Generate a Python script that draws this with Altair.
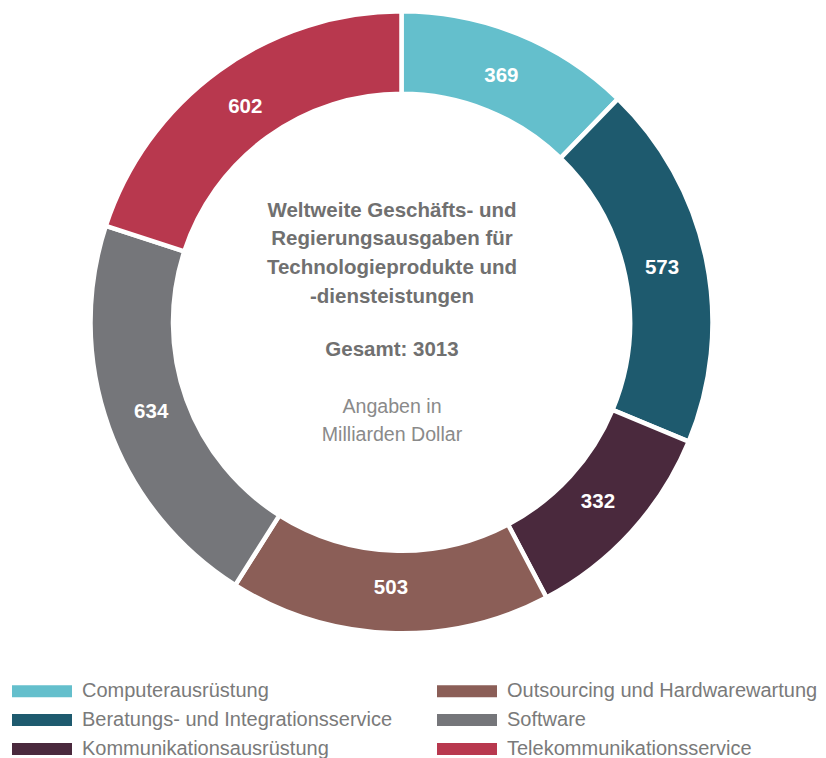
import altair as alt
import pandas as pd

categories = ["Computerausrüstung", "Beratungs- und Integrationsservice", "Kommunikationsausrüstung",
              "Outsourcing und Hardwarewartung", "Software", "Telekommunikationsservice"]
values = [369, 573, 332, 503, 634, 602]
colors = ["#64bfcc", "#1e5a6e", "#4a293d", "#8b5e57", "#75767a", "#b8384e"]

title_lines = ["Weltweite Geschäfts- und", "Regierungsausgaben für", "Technologieprodukte und", "-diensteistungen"]
total_line = "Gesamt: 3013"
unit_lines = ["Angaben in", "Milliarden Dollar"]

df = pd.DataFrame({"cat": categories, "val": values, "idx": list(range(len(values)))})
one = pd.DataFrame({"k": [0]})

CX, CY = 393.5, 314.3
FONT = "Liberation Sans"

color_scale = alt.Scale(domain=categories, range=colors)

base = alt.Chart(df).encode(
    theta=alt.Theta("val:Q", stack=True),
    order=alt.Order("idx:Q"),
)

arcs = base.mark_arc(innerRadius=228.5, outerRadius=311, stroke="white", strokeWidth=4.5).encode(
    x=alt.value(CX), y=alt.value(CY),
    color=alt.Color("cat:N", scale=color_scale, sort=categories,
                    legend=alt.Legend(orient="none", legendX=4, legendY=668.75, columns=2,
                                      columnPadding=44, rowPadding=0, clipHeight=28.5, title=None,
                                      symbolType="M-1,-0.2H1V0.2H-1Z", symbolSize=3600,
                                      symbolStrokeWidth=0, symbolOpacity=1,
                                      labelFont=FONT, labelFontSize=20, labelColor="#7a7a7a",
                                      labelOffset=10, labelLimit=500)),
)

labels = base.mark_text(radius=266, font=FONT, fontSize=20.5, fontWeight="bold", color="white").encode(
    x=alt.value(CX), y=alt.value(CY),
    text=alt.Text("val:Q"),
)

t1 = alt.Chart(one).mark_text(font=FONT, fontSize=20.5, fontWeight="bold", color="#707070",
                              lineHeight=28.7, baseline="middle", align="center").encode(
    x=alt.value(384), y=alt.value(202.5), text=alt.value(title_lines))
t2 = alt.Chart(one).mark_text(font=FONT, fontSize=20.5, fontWeight="bold", color="#707070",
                              baseline="middle", align="center").encode(
    x=alt.value(384), y=alt.value(342), text=alt.value(total_line))
t3 = alt.Chart(one).mark_text(font=FONT, fontSize=19.6, color="#8a8a8a",
                              lineHeight=28, baseline="middle", align="center").encode(
    x=alt.value(384), y=alt.value(399), text=alt.value(unit_lines))

chart = alt.layer(arcs, labels, t1, t2, t3).properties(
    width=810, height=750, padding=0, autosize=alt.AutoSizeParams(type="none")
).configure_view(stroke=None)

chart.save("out.html", embed_options={"renderer": "svg", "actions": False})
